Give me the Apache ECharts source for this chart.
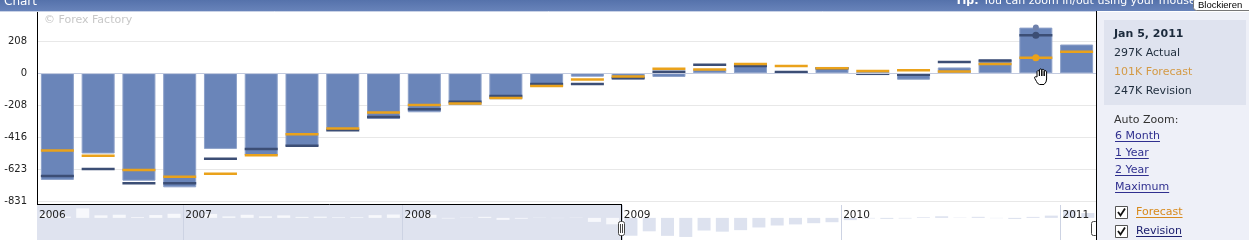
<!DOCTYPE html>
<html><head><meta charset="utf-8">
<script src="https://cdn.jsdelivr.net/npm/echarts@6/dist/echarts.min.js"></script>
<style>html,body{margin:0;padding:0;background:#fff;overflow:hidden}#c{width:1249px;height:240px}</style>
</head><body><div id="c"></div>
<script>
// ---- data ----
const dates = ['Jan 7, 2009','Feb 4, 2009','Mar 4, 2009','Apr 1, 2009','May 6, 2009','Jun 3, 2009','Jul 1, 2009','Aug 5, 2009','Sep 2, 2009','Sep 30, 2009','Nov 4, 2009','Dec 2, 2009','Jan 6, 2010','Feb 3, 2010','Mar 3, 2010','Mar 31, 2010','May 5, 2010','Jun 2, 2010','Jun 30, 2010','Aug 4, 2010','Sep 1, 2010','Sep 29, 2010','Nov 3, 2010','Dec 1, 2010','Jan 5, 2011','Feb 2, 2011'];
const actual   = [-694,-522,-699,-742,-492,-536,-477,-373,-297,-254,-207,-169,-88,-22,-40,-24,26,62,12,41,-12,-42,38,88,297,187];
const forecast = [-503,-536,-629,-673,-653,-534,-397,-360,-256,-206,-196,-161,-83,-40,-21,30,24,60,48,33,14,19,11,61,101,140];
const revision = [-668,-623,-716,-716,-556,-492,-471,-371,-284,-234,-186,-148,-70,-70,-32,10,56,47,9,33,-3,-9,73,83,247,null];
const yTickLabels = ['-831','-623','-416','-208','0','208'];
// navigator: monthly history before the zoomed window (May 2006 - Dec 2008)
const navHistory = [160,50,368,99,121,30,110,158,40,152,57,119,58,97,38,48,26,27,106,130,130,119,-23,10,40,-79,-33,9,-8,10,-157,-250];
const navStart = [2006, 5];
const highlightIndex = 24;

// ---- build ----
const FONT = 'DejaVu Sans';
const step = 207.75;
const navValues = navHistory.concat(actual);
const navMonths = [], navBounds = [];
for (let i = 0; i <= navValues.length; i++) {
  const m0 = navStart[1] - 1 + i;
  const s = (navStart[0] + Math.floor(m0 / 12)) + '-' + String(m0 % 12 + 1).padStart(2, '0');
  navBounds.push(s);
  if (i < navValues.length) navMonths.push(s);
}
const hi = highlightIndex;
const mctx = document.createElement('canvas').getContext('2d');
function tw(t, f) { mctx.font = f; return mctx.measureText(t).width; }

const chart = echarts.init(document.getElementById('c'));
const F11 = '11px "DejaVu Sans"';
const PX = 1114;
function txt(t, x, y, fill, font, z) {
  return {type: 'text', z: z || 110, style: {text: t, x: x, y: y, fill: fill, font: font || F11, verticalAlign: 'middle'}};
}
function uline(t, x, y, color, font) {
  return {type: 'line', z: 110, shape: {x1: x, y1: y, x2: x + tw(t, font || F11), y2: y}, style: {stroke: color, lineWidth: 1}};
}
function checkbox(x, y) {
  return [
    {type: 'rect', z: 110, shape: {x: x + 0.5, y: y + 0.5, width: 12, height: 12}, style: {fill: '#fff', stroke: '#555', lineWidth: 1}},
    {type: 'polyline', z: 111, shape: {points: [[x + 3, y + 6], [x + 5.5, y + 9.5], [x + 10, y + 2.5]]}, style: {stroke: '#111', lineWidth: 1.8, fill: null}}
  ];
}
const handPts = [[3,9],[3,3.6],[3.6,2.8],[4.8,2.8],[5.4,3.6],[5.4,8],[5.4,1.8],[6,1],[7.2,1],[7.8,1.8],[7.8,8],[7.8,2.2],[8.4,1.4],[9.6,1.4],[10.2,2.2],[10.2,8],[10.2,3.6],[10.8,2.8],[12,2.8],[12.6,3.6],[12.6,11],[12,14],[10,16.5],[5.5,16.5],[3.5,15.3],[2.5,13.5],[0.8,10.5],[0.6,9.2],[1.4,8.7],[2.3,8.8]].map(p => [p[0] + 1034, p[1] + 68]);

const graphics = [
  // navigator shaded (unselected) region background
  {type: 'rect', z: -10, shape: {x: 37, y: 204.5, width: 585, height: 40}, style: {fill: '#dfe3ef'}},
  // header
  {type: 'rect', z: 100, shape: {x: 0, y: 0, width: 1249, height: 11}, style: {fill: new echarts.graphic.LinearGradient(0, 0, 0, 1, [{offset: 0, color: '#5572ab'}, {offset: 1, color: '#6883ba'}])}},
  {type: 'line', z: 100, shape: {x1: 0, y1: 11.5, x2: 1097, y2: 11.5}, style: {stroke: '#c9d2e6', lineWidth: 1}},
  txt('Chart', 4, 1.5, '#fff', '12px "DejaVu Sans"', 101),
  txt('Tip:', 955, 1.5, '#fff', 'bold 11px "DejaVu Sans"', 101),
  txt('You can zoom in/out using your mouse wheel', 983, 1.5, '#fff', F11, 101),
  {type: 'rect', z: 105, shape: {x: 1193.5, y: -2, width: 60, height: 12.5, r: 3}, style: {fill: '#fff', stroke: '#777', lineWidth: 1}},
  txt('Blockieren', 1198, 5.5, '#000', '9.5px "Liberation Sans"', 106),
  // watermark
  txt('\u00a9 Forex Factory', 44, 20, '#c8c8c8', F11, 5),
  // plot frame lines
  {type: 'line', z: 50, shape: {x1: 37.5, y1: 11, x2: 37.5, y2: 205}, style: {stroke: '#000', lineWidth: 1}},
  {type: 'line', z: 50, shape: {x1: 37, y1: 204.5, x2: 622, y2: 204.5}, style: {stroke: '#000', lineWidth: 1}},
  {type: 'line', z: 50, shape: {x1: 621.5, y1: 204.5, x2: 621.5, y2: 240}, style: {stroke: '#000', lineWidth: 1}},
  // handles
  {type: 'rect', z: 60, shape: {x: 618.5, y: 221.5, width: 6, height: 14, r: 2}, style: {fill: '#fff', stroke: '#444', lineWidth: 1}},
  {type: 'line', z: 61, shape: {x1: 620.5, y1: 224, x2: 620.5, y2: 233}, style: {stroke: '#444', lineWidth: 1}},
  {type: 'line', z: 61, shape: {x1: 622.5, y1: 224, x2: 622.5, y2: 233}, style: {stroke: '#444', lineWidth: 1}},
  {type: 'rect', z: 60, shape: {x: 1091.5, y: 221.5, width: 6, height: 14, r: 2}, style: {fill: '#fff', stroke: '#444', lineWidth: 1}},
  // hand cursor
  {type: 'polygon', z: 70, shape: {points: handPts}, style: {fill: '#fff', stroke: '#000', lineWidth: 1}},
  // right panel
  {type: 'rect', z: 100, shape: {x: 1097, y: 12, width: 152, height: 228}, style: {fill: '#eef0f8'}},
  {type: 'line', z: 102, shape: {x1: 1096.5, y1: 11, x2: 1096.5, y2: 240}, style: {stroke: '#000', lineWidth: 1}},
  {type: 'rect', z: 101, shape: {x: 1104, y: 20, width: 142, height: 85}, style: {fill: '#dfe3ef'}},
  txt(dates[hi], PX, 34, '#1b2a3c', 'bold 11px "DejaVu Sans"'),
  txt(actual[hi] + 'K Actual', PX, 53, '#1f2d3d'),
  txt(forecast[hi] + 'K Forecast', PX, 72, '#d49a45'),
  txt(revision[hi] + 'K Revision', PX, 91, '#1f2d3d'),
  txt('Auto Zoom:', PX, 120, '#333'),
  txt('6 Month', 1115, 136, '#30308f'), uline('6 Month', 1115, 141.5, '#30308f'),
  txt('1 Year', 1115, 153, '#30308f'), uline('1 Year', 1115, 158.5, '#30308f'),
  txt('2 Year', 1115, 170, '#30308f'), uline('2 Year', 1115, 175.5, '#30308f'),
  txt('Maximum', 1115, 187, '#30308f'), uline('Maximum', 1115, 192.5, '#30308f'),
  ...checkbox(1115, 206), ...checkbox(1115, 225),
  txt('Forecast', 1136, 212, '#d88a1c'), uline('Forecast', 1136, 217.5, '#d88a1c'),
  txt('Revision', 1136, 231, '#1f2270'), uline('Revision', 1136, 236.5, '#1f2270')
];

const option = {
  animation: false,
  backgroundColor: '#fff',
  grid: [
    {left: 37, top: 9.4, width: 1060, height: 191.6},
    {left: 37, top: 205, width: 1060, height: 35}
  ],
  xAxis: [
    {type: 'category', gridIndex: 0, data: dates, boundaryGap: true, show: false},
    {type: 'category', gridIndex: 1, data: navMonths, boundaryGap: true, show: false},
    {type: 'category', gridIndex: 1, data: navBounds, boundaryGap: false, position: 'top', z: 10,
      axisLine: {show: false}, axisTick: {show: false},
      axisLabel: {inside: true, margin: 5, align: 'left', padding: [0, 0, 0, 2],
        interval: (i, v) => i === 0 || String(v).endsWith('-01'),
        formatter: v => String(v).slice(0, 4),
        fontFamily: FONT, fontSize: 10.5, color: '#222'},
      splitLine: {show: true, interval: (i, v) => i > 0 && String(v).endsWith('-01'), lineStyle: {color: '#cdd3e3', width: 1}}}
  ],
  yAxis: [
    {type: 'value', gridIndex: 0, min: -4 * step, max: 2 * step, interval: step,
      axisLine: {show: false}, axisTick: {show: false},
      axisLabel: {showMaxLabel: false, margin: 10, fontFamily: FONT, fontSize: 10, color: '#222',
        formatter: v => { const k = Math.round(v / step) + 4; return yTickLabels[k] !== undefined ? yTickLabels[k] : ''; }},
      splitLine: {lineStyle: {color: '#e8e8e8', width: 1}}},
    {type: 'value', gridIndex: 1, min: -860, max: 500, show: false}
  ],
  series: [
    {type: 'bar', name: 'Actual', xAxisIndex: 0, yAxisIndex: 0, data: actual, barWidth: 33, z: 2,
      itemStyle: {color: '#6a85b9', borderColor: '#8da1c9', borderWidth: 1},
      markLine: {silent: true, symbol: 'none', label: {show: false}, lineStyle: {color: '#c3cbdf', type: 'solid', width: 1}, data: [{yAxis: 0}]}},
    {type: 'scatter', name: 'Revision', xAxisIndex: 0, yAxisIndex: 0, data: revision.map(v => v === null ? '-' : v),
      symbol: 'rect', symbolSize: [33, 2.5], itemStyle: {color: '#3c4e75', opacity: 1}, z: 3},
    {type: 'scatter', name: 'Forecast', xAxisIndex: 0, yAxisIndex: 0, data: forecast,
      symbol: 'rect', symbolSize: [33, 2.5], itemStyle: {color: '#eaa21b', opacity: 1}, z: 4},
    {type: 'scatter', xAxisIndex: 0, yAxisIndex: 0, data: [[dates[hi], actual[hi]]], symbol: 'circle', symbolSize: 6, itemStyle: {color: '#6f81ab', opacity: 1}, z: 5},
    {type: 'scatter', xAxisIndex: 0, yAxisIndex: 0, data: [[dates[hi], revision[hi]]], symbol: 'circle', symbolSize: 7, itemStyle: {color: '#3c4e75', opacity: 1}, z: 5},
    {type: 'scatter', xAxisIndex: 0, yAxisIndex: 0, data: [[dates[hi], forecast[hi]]], symbol: 'circle', symbolSize: 7, itemStyle: {color: '#eaa21b', opacity: 1}, z: 5},
    {type: 'bar', xAxisIndex: 1, yAxisIndex: 1, data: navValues, barWidth: 13, silent: true, z: 1,
      itemStyle: {color: p => p.dataIndex < navHistory.length ? '#f7f8fc' : '#dde2ef'}}
  ],
  graphic: {elements: graphics}
};
chart.setOption(option);
</script></body></html>
